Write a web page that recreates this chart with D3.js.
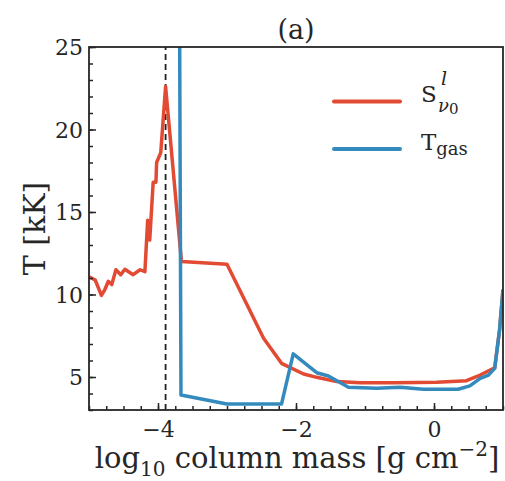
<!DOCTYPE html>
<html>
<head>
<meta charset="utf-8">
<script src="https://cdn.jsdelivr.net/npm/d3@7"></script>
<style>
  body { margin: 0; background: #fff; }
  text { font-family: "DejaVu Serif", "Liberation Serif", serif; fill: #262626; }
</style>
</head>
<body>
<div id="chart"></div>
<script>
// source function S (red) and gas temperature (blue), kK vs log10 column mass
var sX = [-5.0, -4.91, -4.82, -4.77, -4.72, -4.67, -4.61, -4.54, -4.48, -4.36, -4.26, -4.19,
          -4.15, -4.12, -4.07, -4.03, -4.02, -3.96, -3.89, -3.66, -3.0, -2.47, -2.21, -1.89,
          -1.70, -1.41, -1.07, -0.59, 0.04, 0.47, 0.67, 0.88, 0.95, 1.0];
var sY = [11.08, 10.88, 9.95, 10.3, 10.8, 10.6, 11.5, 11.2, 11.53, 11.2, 11.5, 11.38,
          14.5, 13.3, 16.8, 16.8, 18.0, 18.6, 22.6, 12.0, 11.83, 7.35, 5.83, 5.18,
          4.98, 4.72, 4.65, 4.65, 4.68, 4.78, 5.12, 5.56, 7.85, 10.3];
var gX = [-3.69, -3.667, -3.0, -2.21, -2.04, -1.70, -1.53, -1.24, -0.83, -0.49, -0.155, 0.35,
          0.52, 0.67, 0.79, 0.88, 0.95, 1.0];
var gY = [30, 3.91, 3.36, 3.36, 6.4, 5.26, 5.06, 4.38, 4.32, 4.38, 4.26, 4.26,
          4.46, 4.92, 5.12, 5.52, 7.85, 10.3];
var tauOne = -3.89;
var xTicks = [-4, -2, 0];
var yTicks = [5, 10, 15, 20, 25];

var W = 505, H = 481;
var m = { left: 89, right: 2, top: 47, bottom: 71 };

var svg = d3.select('#chart').append('svg')
  .attr('width', W)
  .attr('height', H);

var x = d3.scaleLinear().domain([-5, 1]).range([m.left, W - m.right]);
var y = d3.scaleLinear().domain([3, 25]).range([H - m.bottom, m.top]);

svg.append('clipPath').attr('id', 'clip')
  .append('rect')
    .attr('x', m.left).attr('y', m.top)
    .attr('width', x.range()[1] - m.left)
    .attr('height', y.range()[0] - m.top);

var line = d3.line()
  .x(function(d) { return x(d[0]); })
  .y(function(d) { return y(d[1]); });

var plot = svg.append('g').attr('clip-path', 'url(#clip)');

plot.append('line')
  .attr('x1', x(tauOne)).attr('x2', x(tauOne))
  .attr('y1', y(3)).attr('y2', y(25))
  .attr('stroke', '#222')
  .attr('stroke-width', 1.8)
  .attr('stroke-dasharray', '6,4');

plot.append('path')
  .datum(d3.zip(sX, sY))
  .attr('d', line)
  .attr('fill', 'none')
  .attr('stroke', '#E24A33')
  .attr('stroke-width', 3.5)
  .attr('stroke-linejoin', 'round');

plot.append('path')
  .datum(d3.zip(gX, gY))
  .attr('d', line)
  .attr('fill', 'none')
  .attr('stroke', '#348ABD')
  .attr('stroke-width', 3.5)
  .attr('stroke-linejoin', 'round');

// axes, ticks pointing inward
var xAxis = d3.axisBottom(x).tickValues(xTicks).tickSize(-7)
  .tickFormat(function(d) { return d3.format('d')(d).replace('-', '\u2212'); });
var xMinor = d3.axisBottom(x).tickValues(d3.range(-5, 1.01, 0.25)).tickSize(-4).tickFormat('');
var yAxis = d3.axisLeft(y).tickValues(yTicks).tickSize(-7);
var yMinor = d3.axisLeft(y).tickValues(d3.range(3, 25.01, 1)).tickSize(-4).tickFormat('');

function style(g) {
  g.select('.domain').remove();
  g.selectAll('line').attr('stroke', '#262626').attr('stroke-width', 1.5);
  g.selectAll('text').style('font-size', '22px').attr('fill', '#262626');
}

svg.append('g').attr('transform', 'translate(0,' + y(3) + ')').call(xMinor).call(style);
svg.append('g').attr('transform', 'translate(0,' + y(3) + ')').call(xAxis).call(style)
  .selectAll('text').attr('y', 27).attr('dy', 0);
svg.append('g').attr('transform', 'translate(' + m.left + ',0)').call(yMinor).call(style);
svg.append('g').attr('transform', 'translate(' + m.left + ',0)').call(yAxis).call(style)
  .selectAll('text').attr('x', -6).attr('dy', '0.36em');

svg.append('rect')
  .attr('x', m.left).attr('y', m.top)
  .attr('width', x.range()[1] - m.left)
  .attr('height', y.range()[0] - m.top)
  .attr('fill', 'none')
  .attr('stroke', '#262626')
  .attr('stroke-width', 1.8);

// title
svg.append('text')
  .attr('x', (m.left + x.range()[1]) / 2).attr('y', 39)
  .attr('text-anchor', 'middle')
  .style('font-size', '27px')
  .text('(a)');

// x label
var xl = svg.append('text')
  .attr('x', (m.left + x.range()[1]) / 2 + 1).attr('y', 468)
  .attr('text-anchor', 'middle')
  .style('font-size', '29px');
xl.append('tspan').text('log');
xl.append('tspan').attr('dy', 8).style('font-size', '20px').text('10');
xl.append('tspan').attr('dy', -8).text(' column mass [g cm');
xl.append('tspan').attr('dy', -12).style('font-size', '20px').text('\u22122');
xl.append('tspan').attr('dy', 12).text(']');

// y label
svg.append('text')
  .attr('transform', 'translate(45,' + (m.top + y.range()[0]) / 2 + ') rotate(-90)')
  .attr('text-anchor', 'middle')
  .style('font-size', '30px')
  .text('T [kK]');

// legend
var leg = svg.append('g');
leg.append('line')
  .attr('x1', 334).attr('x2', 400).attr('y1', 101.5).attr('y2', 101.5)
  .attr('stroke', '#E24A33').attr('stroke-width', 4).attr('stroke-linecap', 'round');
leg.append('line')
  .attr('x1', 334).attr('x2', 400).attr('y1', 149).attr('y2', 149)
  .attr('stroke', '#348ABD').attr('stroke-width', 4).attr('stroke-linecap', 'round');

leg.append('text').attr('x', 421).attr('y', 102).style('font-size', '23px').text('S');
leg.append('text').attr('x', 441).attr('y', 85).style('font-size', '19px')
  .style('font-style', 'italic').text('l');
var sub = leg.append('text').attr('x', 438).attr('y', 112).style('font-size', '18px');
sub.append('tspan').style('font-style', 'italic').text('\u03bd');
sub.append('tspan').attr('dy', 2).style('font-size', '15px').text('0');

var tl = leg.append('text').attr('x', 421).attr('y', 150).style('font-size', '23px');
tl.append('tspan').text('T');
tl.append('tspan').attr('dy', 5).style('font-size', '18px').text('gas');
</script>
</body>
</html>
